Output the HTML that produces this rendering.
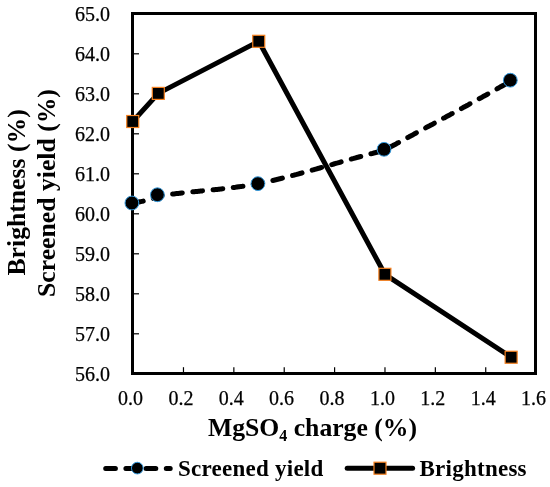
<!DOCTYPE html>
<html><head><meta charset="utf-8"><title>MgSO4 charge chart</title>
<style>
html,body{margin:0;padding:0;background:#fff;}
svg{display:block;}
text{font-family:"Liberation Serif","Times New Roman",serif;fill:#000;}
.tk{font-size:20px;stroke:#000;stroke-width:0.25px;}
.ti{font-size:25.7px;font-weight:bold;}
.lg{font-size:23px;font-weight:bold;letter-spacing:0.25px;}
</style></head><body>
<svg width="550" height="487" viewBox="0 0 550 487">
<rect width="550" height="487" fill="#fff"/>
<rect x="132.5" y="13.5" width="403" height="360" fill="none" stroke="#000" stroke-width="3"/>
<line x1="132.5" y1="53.8" x2="139" y2="53.8" stroke="#000" stroke-width="1.2"/>
<line x1="132.5" y1="93.8" x2="139" y2="93.8" stroke="#000" stroke-width="1.2"/>
<line x1="132.5" y1="133.8" x2="139" y2="133.8" stroke="#000" stroke-width="1.2"/>
<line x1="132.5" y1="173.8" x2="139" y2="173.8" stroke="#000" stroke-width="1.2"/>
<line x1="132.5" y1="213.8" x2="139" y2="213.8" stroke="#000" stroke-width="1.2"/>
<line x1="132.5" y1="253.8" x2="139" y2="253.8" stroke="#000" stroke-width="1.2"/>
<line x1="132.5" y1="293.8" x2="139" y2="293.8" stroke="#000" stroke-width="1.2"/>
<line x1="132.5" y1="333.8" x2="139" y2="333.8" stroke="#000" stroke-width="1.2"/>
<line x1="183.47" y1="373.5" x2="183.47" y2="367.2" stroke="#000" stroke-width="1.2"/>
<line x1="233.85" y1="373.5" x2="233.85" y2="367.2" stroke="#000" stroke-width="1.2"/>
<line x1="284.23" y1="373.5" x2="284.23" y2="367.2" stroke="#000" stroke-width="1.2"/>
<line x1="334.60" y1="373.5" x2="334.60" y2="367.2" stroke="#000" stroke-width="1.2"/>
<line x1="384.98" y1="373.5" x2="384.98" y2="367.2" stroke="#000" stroke-width="1.2"/>
<line x1="435.35" y1="373.5" x2="435.35" y2="367.2" stroke="#000" stroke-width="1.2"/>
<line x1="485.73" y1="373.5" x2="485.73" y2="367.2" stroke="#000" stroke-width="1.2"/>
<text x="110" y="20.6" text-anchor="end" class="tk">65.0</text>
<text x="110" y="60.6" text-anchor="end" class="tk">64.0</text>
<text x="110" y="100.6" text-anchor="end" class="tk">63.0</text>
<text x="110" y="140.6" text-anchor="end" class="tk">62.0</text>
<text x="110" y="180.6" text-anchor="end" class="tk">61.0</text>
<text x="110" y="220.6" text-anchor="end" class="tk">60.0</text>
<text x="110" y="260.6" text-anchor="end" class="tk">59.0</text>
<text x="110" y="300.6" text-anchor="end" class="tk">58.0</text>
<text x="110" y="340.6" text-anchor="end" class="tk">57.0</text>
<text x="110" y="380.6" text-anchor="end" class="tk">56.0</text>
<text x="130.50" y="405" text-anchor="middle" class="tk">0.0</text>
<text x="180.88" y="405" text-anchor="middle" class="tk">0.2</text>
<text x="231.25" y="405" text-anchor="middle" class="tk">0.4</text>
<text x="281.62" y="405" text-anchor="middle" class="tk">0.6</text>
<text x="332.00" y="405" text-anchor="middle" class="tk">0.8</text>
<text x="382.38" y="405" text-anchor="middle" class="tk">1.0</text>
<text x="432.75" y="405" text-anchor="middle" class="tk">1.2</text>
<text x="483.13" y="405" text-anchor="middle" class="tk">1.4</text>
<text x="533.50" y="405" text-anchor="middle" class="tk">1.6</text>
<path d="M131.9,203.0 L132.9,202.9 L133.9,202.8 L134.9,202.6 L135.9,202.5 L136.9,202.3 L137.9,202.1 L138.9,202.0 L139.9,201.8 L140.9,201.6 L141.9,201.4 L142.9,201.2 L143.9,200.9 L144.9,200.7 L145.9,200.5 L146.9,200.2 L147.9,200.0 L148.9,199.7 L149.9,199.4 L150.9,199.1 L151.9,198.8 L152.9,198.5 L153.9,198.2 L154.9,197.8 L155.9,197.5 L156.9,197.1 L157.4,197.0 L157.4,196.3 L158.4,196.1 L159.4,195.9 L160.4,195.8 L161.4,195.6 L162.4,195.5 L163.4,195.3 L164.4,195.2 L165.4,195.1 L166.4,194.9 L167.4,194.8 L168.4,194.6 L169.4,194.5 L170.4,194.4 L171.4,194.2 L172.4,194.1 L173.4,194.0 L174.4,193.9 L175.4,193.7 L176.4,193.6 L177.4,193.5 L178.4,193.4 L179.4,193.3 L180.4,193.2 L181.4,193.0 L182.4,192.9 L183.4,192.8 L184.4,192.7 L185.4,192.6 L186.4,192.5 L187.4,192.4 L188.4,192.3 L189.4,192.2 L190.4,192.1 L191.4,192.0 L192.4,191.9 L193.4,191.8 L194.4,191.7 L195.4,191.6 L196.4,191.5 L197.4,191.4 L198.4,191.3 L199.4,191.2 L200.4,191.1 L201.4,191.0 L202.4,190.9 L203.4,190.8 L204.4,190.7 L205.4,190.6 L206.4,190.5 L207.4,190.4 L208.4,190.3 L209.4,190.2 L210.4,190.1 L211.4,190.0 L212.4,189.9 L213.4,189.8 L214.4,189.7 L215.4,189.6 L216.4,189.5 L217.4,189.4 L218.4,189.3 L219.4,189.2 L220.4,189.1 L221.4,188.9 L222.4,188.8 L223.4,188.7 L224.4,188.6 L225.4,188.5 L226.4,188.4 L227.4,188.3 L228.4,188.1 L229.4,188.0 L230.4,187.9 L231.4,187.8 L232.4,187.6 L233.4,187.5 L234.4,187.4 L235.4,187.3 L236.4,187.1 L237.4,187.0 L238.4,186.8 L239.4,186.7 L240.4,186.6 L241.4,186.4 L242.4,186.3 L243.4,186.1 L244.4,186.0 L245.4,185.8 L246.4,185.6 L247.4,185.5 L248.4,185.3 L249.4,185.2 L250.4,185.0 L251.4,184.8 L252.4,184.6 L253.4,184.4 L254.4,184.3 L255.4,184.1 L256.4,183.9 L257.4,183.7 L257.8,183.6 L257.8,183.9 L258.8,183.7 L259.8,183.5 L260.8,183.3 L261.8,183.0 L262.8,182.8 L263.8,182.6 L264.8,182.4 L265.8,182.1 L266.8,181.9 L267.8,181.7 L268.8,181.5 L269.8,181.2 L270.8,181.0 L271.8,180.7 L272.8,180.5 L273.8,180.3 L274.8,180.0 L275.8,179.8 L276.8,179.5 L277.8,179.3 L278.8,179.0 L279.8,178.8 L280.8,178.5 L281.8,178.3 L282.8,178.0 L283.8,177.8 L284.8,177.5 L285.8,177.3 L286.8,177.0 L287.8,176.8 L288.8,176.5 L289.8,176.2 L290.8,176.0 L291.8,175.7 L292.8,175.4 L293.8,175.2 L294.8,174.9 L295.8,174.6 L296.8,174.4 L297.8,174.1 L298.8,173.8 L299.8,173.5 L300.8,173.3 L301.8,173.0 L302.8,172.7 L303.8,172.5 L304.8,172.2 L305.8,171.9 L306.8,171.6 L307.8,171.3 L308.8,171.1 L309.8,170.8 L310.8,170.5 L311.8,170.2 L312.8,169.9 L313.8,169.7 L314.8,169.4 L315.8,169.1 L316.8,168.8 L317.8,168.5 L318.8,168.3 L319.8,168.0 L320.8,167.7 L321.8,167.4 L322.8,167.1 L323.8,166.8 L324.8,166.6 L325.8,166.3 L326.8,166.0 L327.8,165.7 L328.8,165.4 L329.8,165.1 L330.8,164.8 L331.8,164.6 L332.8,164.3 L333.8,164.0 L334.8,163.7 L335.8,163.4 L336.8,163.1 L337.8,162.9 L338.8,162.6 L339.8,162.3 L340.8,162.0 L341.8,161.7 L342.8,161.4 L343.8,161.2 L344.8,160.9 L345.8,160.6 L346.8,160.3 L347.8,160.0 L348.8,159.8 L349.8,159.5 L350.8,159.2 L351.8,158.9 L352.8,158.6 L353.8,158.4 L354.8,158.1 L355.8,157.8 L356.8,157.5 L357.8,157.3 L358.8,157.0 L359.8,156.7 L360.8,156.5 L361.8,156.2 L362.8,155.9 L363.8,155.7 L364.8,155.4 L365.8,155.1 L366.8,154.9 L367.8,154.6 L368.8,154.3 L369.8,154.1 L370.8,153.8 L371.8,153.6 L372.8,153.3 L373.8,153.0 L374.8,152.8 L375.8,152.5 L376.8,152.3 L377.8,152.0 L378.8,151.8 L379.8,151.5 L380.8,151.3 L381.8,151.0 L382.8,150.8 L383.8,150.6 L384.1,150.5 L384.1,150.4 L385.1,149.8 L386.1,149.3 L387.1,148.7 L388.1,148.2 L389.1,147.7 L390.1,147.1 L391.1,146.6 L392.1,146.0 L393.1,145.5 L394.1,144.9 L395.1,144.4 L396.1,143.9 L397.1,143.3 L398.1,142.8 L399.1,142.2 L400.1,141.7 L401.1,141.1 L402.1,140.6 L403.1,140.1 L404.1,139.5 L405.1,139.0 L406.1,138.4 L407.1,137.9 L408.1,137.4 L409.1,136.8 L410.1,136.3 L411.1,135.7 L412.1,135.2 L413.1,134.7 L414.1,134.1 L415.1,133.6 L416.1,133.0 L417.1,132.5 L418.1,132.0 L419.1,131.4 L420.1,130.9 L421.1,130.3 L422.1,129.8 L423.1,129.3 L424.1,128.7 L425.1,128.2 L426.1,127.6 L427.1,127.1 L428.1,126.6 L429.1,126.0 L430.1,125.5 L431.1,124.9 L432.1,124.4 L433.1,123.9 L434.1,123.3 L435.1,122.8 L436.1,122.2 L437.1,121.7 L438.1,121.2 L439.1,120.6 L440.1,120.1 L441.1,119.5 L442.1,119.0 L443.1,118.5 L444.1,117.9 L445.1,117.4 L446.1,116.8 L447.1,116.3 L448.1,115.8 L449.1,115.2 L450.1,114.7 L451.1,114.1 L452.1,113.6 L453.1,113.0 L454.1,112.5 L455.1,112.0 L456.1,111.4 L457.1,110.9 L458.1,110.3 L459.1,109.8 L460.1,109.2 L461.1,108.7 L462.1,108.2 L463.1,107.6 L464.1,107.1 L465.1,106.5 L466.1,106.0 L467.1,105.4 L468.1,104.9 L469.1,104.3 L470.1,103.8 L471.1,103.2 L472.1,102.7 L473.1,102.1 L474.1,101.6 L475.1,101.0 L476.1,100.5 L477.1,99.9 L478.1,99.4 L479.1,98.8 L480.1,98.3 L481.1,97.7 L482.1,97.2 L483.1,96.6 L484.1,96.1 L485.1,95.5 L486.1,95.0 L487.1,94.4 L488.1,93.9 L489.1,93.3 L490.1,92.7 L491.1,92.2 L492.1,91.6 L493.1,91.1 L494.1,90.5 L495.1,89.9 L496.1,89.4 L497.1,88.8 L498.1,88.3 L499.1,87.7 L500.1,87.1 L501.1,86.6 L502.1,86.0 L503.1,85.4 L504.1,84.9 L505.1,84.3 L506.1,83.7 L507.1,83.2 L508.1,82.6 L509.1,82.0 L510.1,81.5 L510.3,81.4" fill="none" stroke="#000" stroke-width="5" stroke-dasharray="9.8 10.54" stroke-dashoffset="-1.67" stroke-linecap="round" stroke-linejoin="round"/>
<path d="M132.75,121.50 L158.30,93.40 L258.75,41.30 L384.90,274.30 L511.15,357.25" fill="none" stroke="#000" stroke-width="5" stroke-linejoin="round" stroke-linecap="round"/>
<circle cx="131.90" cy="203.00" r="6.9" fill="#000" stroke="#3399dd" stroke-width="1"/>
<circle cx="157.40" cy="194.75" r="6.9" fill="#000" stroke="#3399dd" stroke-width="1"/>
<circle cx="257.90" cy="183.65" r="6.9" fill="#000" stroke="#3399dd" stroke-width="1"/>
<circle cx="384.05" cy="149.30" r="6.9" fill="#000" stroke="#3399dd" stroke-width="1"/>
<circle cx="510.30" cy="80.20" r="6.9" fill="#000" stroke="#3399dd" stroke-width="1"/>
<rect x="126.75" y="115.50" width="12" height="12" fill="#000" stroke="#f5801f" stroke-width="1.2"/>
<rect x="152.30" y="87.40" width="12" height="12" fill="#000" stroke="#f5801f" stroke-width="1.2"/>
<rect x="252.75" y="35.30" width="12" height="12" fill="#000" stroke="#f5801f" stroke-width="1.2"/>
<rect x="378.90" y="268.30" width="12" height="12" fill="#000" stroke="#f5801f" stroke-width="1.2"/>
<rect x="505.15" y="351.25" width="12" height="12" fill="#000" stroke="#f5801f" stroke-width="1.2"/>
<text x="312.5" y="435.9" text-anchor="middle" class="ti">MgSO<tspan font-size="16" dy="5">4</tspan><tspan dy="-5"> charge (%)</tspan></text>
<text transform="translate(25.4,192.4) rotate(-90)" text-anchor="middle" class="ti">Brightness (%)</text>
<text transform="translate(55.4,193) rotate(-90)" text-anchor="middle" class="ti">Screened yield (%)</text>
<path d="M105.7,468.4 L170.2,468.4" fill="none" stroke="#000" stroke-width="5" stroke-dasharray="9.7 10.5" stroke-linecap="round"/>
<circle cx="137.3" cy="468.1" r="5.85" fill="#000" stroke="#3399dd" stroke-width="1"/>
<text x="178" y="476" class="lg">Screened yield</text>
<path d="M347.2,468.3 L412.6,468.3" fill="none" stroke="#000" stroke-width="5" stroke-linecap="round"/>
<rect x="374" y="462.2" width="12" height="12" fill="#000" stroke="#f5801f" stroke-width="1.2"/>
<text x="419.5" y="476" class="lg">Brightness</text>
</svg>
</body></html>
